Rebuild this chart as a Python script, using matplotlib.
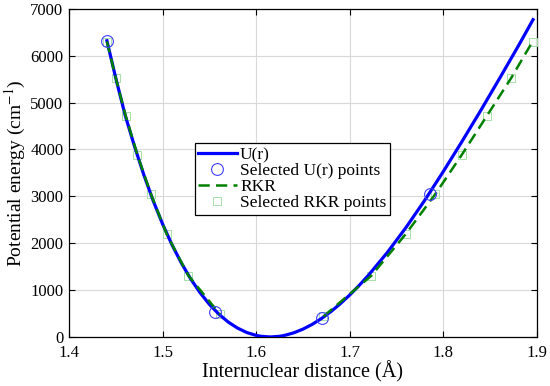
import numpy as np
import matplotlib
matplotlib.use('Agg')
import matplotlib.pyplot as plt

plt.rcParams['font.family'] = ['Liberation Serif', 'DejaVu Serif']
plt.rcParams['mathtext.fontset'] = 'stix'

# U(r) curve
u_r = [1.4405, 1.45, 1.46, 1.47, 1.48, 1.49, 1.50, 1.51, 1.52, 1.53, 1.54,
       1.55, 1.56, 1.57, 1.58, 1.59, 1.60, 1.605, 1.615, 1.625, 1.63, 1.64,
       1.65, 1.66, 1.67, 1.68, 1.69, 1.70, 1.71, 1.72, 1.74, 1.76, 1.78,
       1.80, 1.82, 1.84, 1.86, 1.88, 1.896]
u_E = [6320, 5520, 4730, 4067, 3456, 2904, 2410, 1969, 1580, 1240, 947,
       697, 490, 321, 191, 95, 34, 15, 0, 14, 32, 87,
       167, 270, 396, 543, 710, 895, 1097, 1316, 1797, 2331, 2910,
       3528, 4170, 4830, 5510, 6200, 6770]

# selected U(r) points
sel_u_r = [1.4410, 1.5561, 1.6703, 1.7860]
sel_u_E = [6319, 540, 400, 3060]

# RKR turning points (left branch, then right branch)
rkr_left_r = [1.4405, 1.4499, 1.4606, 1.4730, 1.4874, 1.5045, 1.5276, 1.5615]
rkr_left_E = [6304, 5526, 4715, 3890, 3055, 2188, 1310, 480]
rkr_right_r = [1.6720, 1.7230, 1.7597, 1.7914, 1.8200, 1.8467, 1.8724, 1.8955]
rkr_right_E = [440, 1305, 2190, 3045, 3892, 4720, 5518, 6304]

rkr_r = rkr_left_r + [np.nan] + rkr_right_r
rkr_E = rkr_left_E + [np.nan] + rkr_right_E
rkr_pts_r = rkr_left_r + rkr_right_r
rkr_pts_E = rkr_left_E + rkr_right_E

fig = plt.figure(figsize=(5.5, 3.86), dpi=100)
ax = fig.add_axes([0.1255, 0.127, 0.8505, 0.85])

ax.plot(u_r, u_E, color='blue', lw=2.3, label='U(r)', zorder=4)
ax.plot(sel_u_r, sel_u_E, 'o', ms=8.5, mfc='none', mec='#4040ff', mew=0.8,
        label='Selected U(r) points', zorder=5)
ax.plot(rkr_r, rkr_E, '--', color='green', lw=1.8, dashes=(4.5, 2.5),
        label='RKR', zorder=4)
ax.plot(rkr_pts_r, rkr_pts_E, 's', ms=6, mfc='none', mec='#a8e0a8', mew=0.7,
        label='Selected RKR points', zorder=3)

ax.set_xlim(1.4, 1.9)
ax.set_ylim(0, 7000)
ax.set_xticks([1.4, 1.5, 1.6, 1.7, 1.8, 1.9])
ax.set_yticks(range(0, 7001, 1000))
ax.grid(True, color='#d9d9d9', lw=0.8)
ax.set_axisbelow(True)
ax.tick_params(direction='in', top=True, right=True, labelsize=12, length=4)
ax.tick_params(axis='x', pad=6)
ax.tick_params(axis='y', pad=4)
for s in ax.spines.values():
    s.set_linewidth(0.9)

ax.set_xlabel('Internuclear distance (Å)', fontsize=14.5, labelpad=0)
ax.set_ylabel('Potential energy (cm$^{-1}$)', fontsize=14, labelpad=2)

leg = ax.legend(loc='upper left', bbox_to_anchor=(0.269, 0.59), fontsize=12.5,
                frameon=True, fancybox=False, framealpha=1, edgecolor='black',
                borderpad=0.2, labelspacing=0.0, handlelength=2.2,
                handletextpad=0.2, borderaxespad=0)
leg.get_frame().set_linewidth(0.9)

plt.savefig('out.png', dpi=100)
